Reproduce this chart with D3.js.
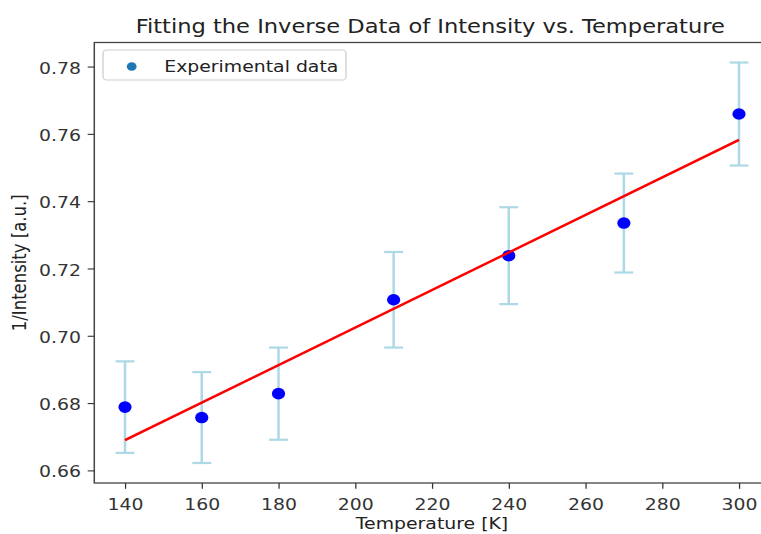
<!DOCTYPE html>
<html><head><meta charset="utf-8">
<script src="https://cdn.jsdelivr.net/npm/d3@7"></script>
<style>body{margin:0;background:#fff}svg{display:block}</style>
</head><body><svg id="c" width="761" height="534"></svg>
<script>
// ---- data ----
const temperatures = [140, 160, 180, 210, 240, 270, 300];
const inverseIntensity = [0.6788, 0.6757, 0.6828, 0.7107, 0.7238, 0.7335, 0.7659];
const errors = [0.0136, 0.0135, 0.0137, 0.0142, 0.0144, 0.0147, 0.0153];
const fitTemps = [140, 300];
const fitValues = [0.6690, 0.7582];
const xTicks = [140, 160, 180, 200, 220, 240, 260, 280, 300];
const yTicks = [0.66, 0.68, 0.70, 0.72, 0.74, 0.76, 0.78];
const titleText = "Fitting the Inverse Data of Intensity vs. Temperature";
const xLabel = "Temperature [K]";
const yLabel = "1/Intensity [a.u.]";
const legendLabel = "Experimental data";

// ---- layout ----
const W = 761, H = 534, SX = 1.143;
const FONT = "DejaVu Sans";
const svg = d3.select('#c');
svg.append('rect').attr('width', W).attr('height', H).attr('fill', '#fff');
const g = svg.append('g').attr('transform', `scale(${SX},1)`);

const xMin = d3.min(temperatures), xMax = d3.max(temperatures);
const xm = (xMax - xMin) * 0.05;
const x = d3.scaleLinear().domain([xMin - xm, xMax + xm]).range([82.5, 673.4]);

const lows = inverseIntensity.map((v, i) => v - errors[i]);
const highs = inverseIntensity.map((v, i) => v + errors[i]);
const yLo = d3.min(lows), yHi = d3.max(highs), ym = (yHi - yLo) * 0.05;
const y = d3.scaleLinear().domain([yLo - ym, yHi + ym]).range([483, 42.5]);

const [x0, x1] = x.range();
const [yb, yt] = y.range();

// error bars
const eb = g.append('g');
temperatures.forEach((t, i) => {
  const cx = x(t);
  eb.append('line').attr('x1', cx).attr('x2', cx).attr('y1', y(lows[i])).attr('y2', y(highs[i]))
    .attr('stroke', '#add8e6').attr('stroke-width', 2.2);
  [lows[i], highs[i]].forEach(v => {
    eb.append('line').attr('x1', cx - 8.27).attr('x2', cx + 8.27).attr('y1', y(v)).attr('y2', y(v))
      .attr('stroke', '#add8e6').attr('stroke-width', 2.2);
  });
});

// points
g.append('g').selectAll('circle').data(temperatures).join('circle')
  .attr('cx', d => x(d)).attr('cy', (d, i) => y(inverseIntensity[i])).attr('r', 5.8)
  .attr('fill', '#0000ff');

// fit line
g.append('path').datum(fitTemps.map((t, i) => [t, fitValues[i]]))
  .attr('d', d3.line().x(d => x(d[0])).y(d => y(d[1])))
  .attr('fill', 'none').attr('stroke', '#ff0000').attr('stroke-width', 2.4);

// frame
g.append('rect').attr('x', x0).attr('y', yt).attr('width', x1 - x0).attr('height', yb - yt)
  .attr('fill', 'none').attr('stroke', '#444').attr('stroke-width', 1.3);

// axes
const xa = g.append('g').attr('transform', `translate(0,${yb})`)
  .call(d3.axisBottom(x).tickValues(xTicks).tickFormat(d3.format('d')).tickSize(5.8).tickSizeOuter(0));
xa.select('.domain').remove();
xa.selectAll('.tick line').attr('stroke', '#333').attr('stroke-width', 1.1);
xa.selectAll('.tick text').attr('y', 27).attr('dy', 0).attr('fill', '#333')
  .attr('font-family', FONT).attr('font-size', 16.5);

const ya = g.append('g').attr('transform', `translate(${x0},0)`)
  .call(d3.axisLeft(y).tickValues(yTicks).tickFormat(d3.format('.2f')).tickSize(5.8).tickPadding(5.8).tickSizeOuter(0));
ya.select('.domain').remove();
ya.selectAll('.tick line').attr('stroke', '#333').attr('stroke-width', 1.1);
ya.selectAll('.tick text').attr('dy', '0.4em').attr('fill', '#333')
  .attr('font-family', FONT).attr('font-size', 16.5);

// labels
g.append('text').attr('x', (x0 + x1) / 2 - 1.5).attr('y', 33).attr('text-anchor', 'middle')
  .attr('font-family', FONT).attr('font-size', 19.75).attr('fill', '#222').text(titleText);
g.append('text').attr('x', (x0 + x1) / 2).attr('y', 529).attr('text-anchor', 'middle')
  .attr('font-family', FONT).attr('font-size', 16.5).attr('fill', '#222').text(xLabel);
g.append('text').attr('transform', `translate(22.7,${(yt + yb) / 2}) rotate(-90)`).attr('text-anchor', 'middle')
  .attr('font-family', FONT).attr('font-size', 16.5).attr('fill', '#222').text(yLabel);

// legend
const lg = g.append('g');
lg.append('rect').attr('x', 90.1).attr('y', 50).attr('width', 212.6).attr('height', 30).attr('rx', 3).attr('ry', 3.5)
  .attr('fill', '#fff').attr('fill-opacity', 0.8).attr('stroke', '#d0d0d0').attr('stroke-width', 1.2);
lg.append('circle').attr('cx', 115.2).attr('cy', 66.5).attr('r', 4.3).attr('fill', '#1f77b4');
lg.append('text').attr('x', 143.7).attr('y', 71.7).attr('font-family', FONT).attr('font-size', 16.5)
  .attr('fill', '#222').text(legendLabel);
</script></body></html>
